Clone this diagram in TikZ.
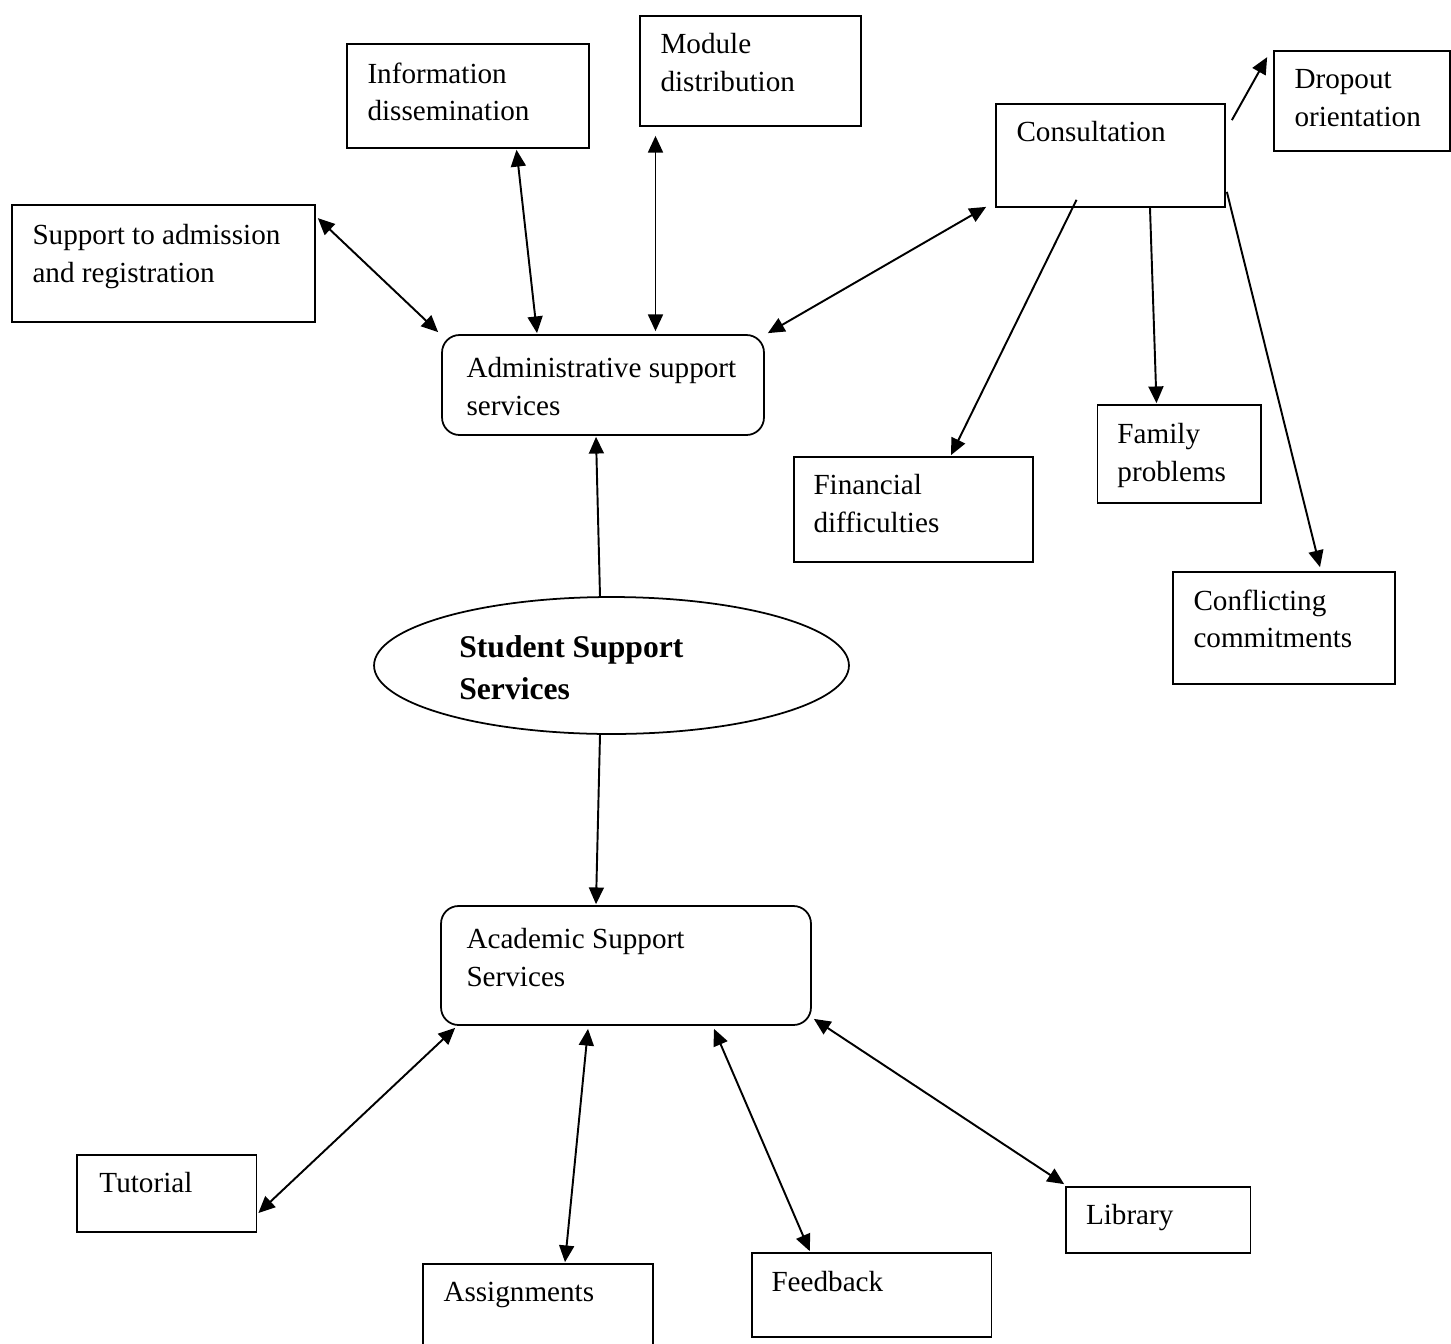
\documentclass[tikz,border=0pt]{standalone}
\usepackage{fontspec}
\setmainfont{Liberation Serif}
\usetikzlibrary{arrows.meta}
\usetikzlibrary{shapes.geometric}

\begin{document}
\begin{tikzpicture}[x=0.02cm,y=-0.02cm]
  \tikzset{box/.style = {shape=rectangle,draw,line width=1pt,inner sep=0pt}}
  \tikzset{rbox/.style = {box,rounded corners=0.35cm}}
  \tikzset{oval/.style = {shape=ellipse,draw,line width=1pt,inner sep=0pt}}
  \tikzset{txt/.style = {anchor=north west,inner sep=0pt,align=left,font=\fontsize{16.6}{21.5}\selectfont}}
  \tikzset{oneway/.style = {line width=1.1pt,-{Triangle[length=9.5pt,width=8.5pt]}}}
  \tikzset{twoway/.style = {line width=1.1pt,{Triangle[length=9.5pt,width=8.5pt]}-{Triangle[length=9.5pt,width=8.5pt]}}}

  \useasboundingbox (0,0) rectangle (1451,1343);
  \clip (0,0) rectangle (1451,1343);

  % upper part
  \node[box,minimum width=6.06cm,minimum height=2.34cm] (SA) at (163.5,263.5) {};
  \node[box,minimum width=4.84cm,minimum height=2.08cm] (ID) at (468,96) {};
  \node[box,minimum width=4.42cm,minimum height=2.2cm] (MD) at (750.5,71) {};
  \node[box,minimum width=4.58cm,minimum height=2.06cm] (C) at (1110.5,155.5) {};
  \node[box,minimum width=3.52cm,minimum height=2cm] (DO) at (1362,101) {};
  \node[rbox,minimum width=6.44cm,minimum height=2cm] (AS) at (603,385) {};
  \node[box,minimum width=4.78cm,minimum height=2.1cm] (FD) at (913.5,509.5) {};
  \node[box,minimum width=3.27cm,minimum height=1.96cm] (FP) at (1179.25,454) {};
  \node[box,minimum width=4.44cm,minimum height=2.24cm] (CC) at (1284,628) {};

  % centre
  \node[oval,minimum width=9.5cm,minimum height=2.74cm] (SSS) at (611.5,665.5) {};

  % lower part
  \node[rbox,minimum width=7.4cm,minimum height=2.38cm] (ACS) at (626,965.5) {};
  \node[box,minimum width=3.59cm,minimum height=1.54cm] (T) at (166.75,1193.5) {};
  \node[box,minimum width=4.6cm,minimum height=2.32cm] (A) at (538,1322) {};
  \node[box,minimum width=4.79cm,minimum height=1.68cm] (F) at (871.75,1295) {};
  \node[box,minimum width=3.69cm,minimum height=1.32cm] (L) at (1158.25,1220) {};

  % texts
  \node[txt] (SAt) at ([shift={(21,20)}]SA.north west) {Support to admission\\and registration};
  \node[txt] (IDt) at ([shift={(21,19)}]ID.north west) {Information\\dissemination};
  \node[txt] (MDt) at ([shift={(21,18)}]MD.north west) {Module\\distribution};
  \node[txt] (Ct) at ([shift={(21,18)}]C.north west) {Consultation};
  \node[txt] (DOt) at ([shift={(21,19)}]DO.north west) {Dropout\\orientation};
  \node[txt] (ASt) at ([shift={(25,23)}]AS.north west) {Administrative support\\services};
  \node[txt] (FDt) at ([shift={(20,18)}]FD.north west) {Financial\\difficulties};
  \node[txt] (FPt) at ([shift={(20.5,19)}]FP.north west) {Family\\problems};
  \node[txt] (CCt) at ([shift={(21,18)}]CC.north west) {Conflicting\\commitments};
  \node[txt,font=\fontsize{18}{23.8}\selectfont\bfseries] (SSSt) at ([shift={(-152.5,-30.5)}]SSS.center) {Student Support\\Services};
  \node[txt] (ACSt) at ([shift={(26,23)}]ACS.north west) {Academic Support\\Services};
  \node[txt] (Tt) at ([shift={(23,18)}]T.north west) {Tutorial};
  \node[txt] (At) at ([shift={(21,19)}]A.north west) {Assignments};
  \node[txt] (Ft) at ([shift={(20,19)}]F.north west) {Feedback};
  \node[txt] (Lt) at ([shift={(20.5,18)}]L.north west) {Library};

  % two-way links
  \draw[twoway] ([shift={(2,14)}]SA.north east) -- ([shift={(-3,-2)}]AS.north west);
  \draw[twoway] ([shift={(48.5,1)}]ID.south) -- ([shift={(-66,-1)}]AS.north);
  \draw[twoway] ([shift={(-95,9)}]MD.south) -- ([shift={(52.5,-3)}]AS.north);
  \draw[twoway] ([shift={(-9,-1)}]C.south west) -- ([shift={(3,-1)}]AS.north east);
  \draw[twoway] ([shift={(15,2)}]ACS.south west) -- ([shift={(1,19.5)}]T.east);
  \draw[twoway] ([shift={(-38,3)}]ACS.south) -- ([shift={(27,-1)}]A.north);
  \draw[twoway] ([shift={(88,3)}]ACS.south) -- ([shift={(-62,-1)}]F.north);
  \draw[twoway] ([shift={(2,-7)}]ACS.south east) -- ([shift={(-1,-2)}]L.north west);

  % one-way links
  \draw[oneway] ([shift={(6,17)}]C.north east) -- ([shift={(-6,7)}]DO.north west);
  \draw[oneway] ([shift={(-34,-8)}]C.south) -- ([shift={(37.5,-1)}]FD.north);
  \draw[oneway] ([shift={(39.5,0)}]C.south) -- ([shift={(-22.75,-1)}]FP.north);
  \draw[oneway] ([shift={(1,-16)}]C.south east) -- ([shift={(36,-4)}]CC.north);
  \draw[oneway] ([shift={(-11.5,0)}]SSS.north) -- ([shift={(-7,1)}]AS.south);
  \draw[oneway] ([shift={(-11.5,0)}]SSS.south) -- ([shift={(-30,-1)}]ACS.north);
\end{tikzpicture}
\end{document}
